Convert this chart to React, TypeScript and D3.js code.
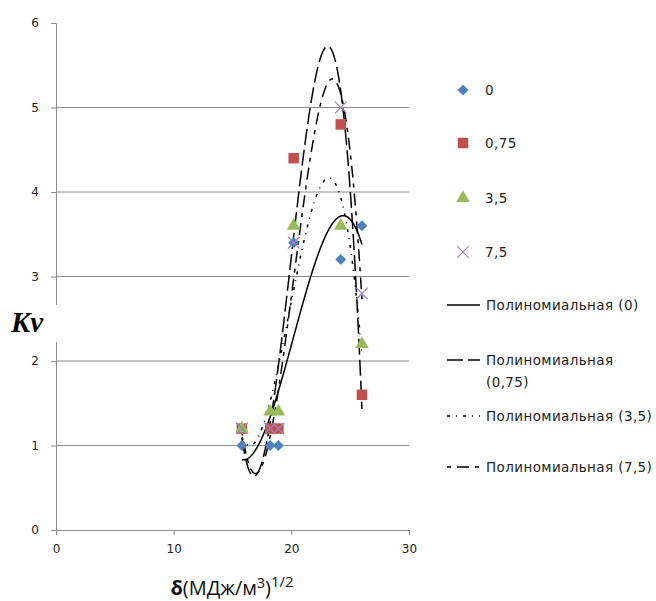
import React, { useEffect, useRef } from 'react';
import * as d3 from 'd3';

// значения
const xValues = [15.8, 18.2, 18.9, 20.2, 24.2, 26.0];
const seriesNames = ['0', '0,75', '3,5', '7,5'];
const kv0 = [1.0, 1.0, 1.0, 3.4, 3.2, 3.6];
const kv075 = [1.2, 1.2, 1.2, 4.4, 4.8, 1.6];
const kv35 = [1.2, 1.4, 1.4, 3.6, 3.6, 2.2];
const kv75 = [1.2, 1.2, 1.2, 3.4, 5.0, 2.8];
const xTicks = [0, 10, 20, 30];
const yTicks = [0, 1, 2, 3, 4, 5, 6];
const trendOrder = 3;

const colors = ['#4F81BD', '#C0504D', '#9BBB59', '#8064A2'];
const dashes = ['none', '16,5', '3,6,1,6', '4,6,12,6'];

// полиномиальная линия тренда (МНК), как в Excel
const polyFit = (xs: number[], ys: number[], order: number) => {
  const n = order + 1;
  const c = 20;
  const A = Array.from({ length: n }, () => new Array(n + 1).fill(0));
  xs.forEach((x, k) => {
    const t = x - c;
    for (let i = 0; i < n; i++) {
      for (let j = 0; j < n; j++) A[i][j] += Math.pow(t, i + j);
      A[i][n] += ys[k] * Math.pow(t, i);
    }
  });
  for (let i = 0; i < n; i++) {
    let p = i;
    for (let r = i + 1; r < n; r++) if (Math.abs(A[r][i]) > Math.abs(A[p][i])) p = r;
    [A[i], A[p]] = [A[p], A[i]];
    for (let r = 0; r < n; r++) {
      if (r === i) continue;
      const f = A[r][i] / A[i][i];
      for (let j = i; j <= n; j++) A[r][j] -= f * A[i][j];
    }
  }
  const coef = A.map((row, i) => row[n] / row[i]);
  return (x: number) => coef.reduce((s, a, i) => s + a * Math.pow(x - c, i), 0);
};

const App = () => {
  const ref = useRef<SVGSVGElement>(null);

  useEffect(() => {
    const svg = d3.select(ref.current);
    svg.selectAll('*').remove();

    const width = 656;
    const height = 601;
    const marginLeft = 56;
    const marginTop = 23;
    const plotRight = 409;
    const plotBottom = 530;

    const x = d3.scaleLinear().domain([0, 30]).range([marginLeft, plotRight]);
    const y = d3.scaleLinear().domain([0, 6]).range([plotBottom, marginTop]);

    svg.attr('width', width).attr('height', height);
    svg.append('rect').attr('width', width).attr('height', height).attr('fill', '#fff');

    // сетка
    svg.append('g')
      .selectAll('line')
      .data(yTicks.filter(d => d > 0 && d < 6))
      .join('line')
      .attr('x1', x(0)).attr('x2', x(30))
      .attr('y1', d => y(d)).attr('y2', d => y(d))
      .attr('stroke', '#8c8c8c').attr('stroke-width', 1);

    const axisFont = '"DejaVu Sans", Verdana, sans-serif';

    const gx = svg.append('g')
      .attr('transform', `translate(0,${plotBottom})`)
      .call(d3.axisBottom(x).tickValues(xTicks).tickFormat(d3.format('d')).tickSize(5).tickPadding(9));
    gx.select('.domain').attr('stroke', '#8c8c8c');
    gx.selectAll('.tick line').attr('stroke', '#8c8c8c');
    gx.selectAll('.tick text').attr('font-family', axisFont).attr('font-size', 12).attr('fill', '#222');

    const gy = svg.append('g')
      .attr('transform', `translate(${marginLeft},0)`)
      .call(d3.axisLeft(y).tickValues(yTicks).tickFormat(d3.format('d')).tickSize(5).tickPadding(12));
    gy.select('.domain').attr('stroke', '#8c8c8c');
    gy.selectAll('.tick line').attr('stroke', '#8c8c8c');
    gy.selectAll('.tick text').attr('font-family', axisFont).attr('font-size', 12).attr('fill', '#222');

    // подпись оси Y поверх оси
    svg.append('rect').attr('x', 8).attr('y', 305).attr('width', 54).attr('height', 37).attr('fill', '#fff');
    svg.append('text')
      .attr('x', 11).attr('y', 332)
      .attr('font-family', '"Liberation Serif", "Times New Roman", serif')
      .attr('font-weight', 'bold').attr('font-style', 'italic').attr('font-size', 29)
      .text('Kv');

    const xLabel = svg.append('text')
      .attr('x', 232).attr('y', 595)
      .attr('text-anchor', 'middle')
      .attr('font-family', '"Open Sans", "DejaVu Sans", sans-serif')
      .attr('font-size', 20).attr('fill', '#111');
    xLabel.append('tspan').attr('font-weight', 'bold').text('δ');
    xLabel.append('tspan').text('(МДж/м');
    xLabel.append('tspan').attr('font-size', 14).attr('dy', -7).text('3');
    xLabel.append('tspan').attr('dy', 7).text(')');
    xLabel.append('tspan').attr('font-size', 15).attr('dy', -8).text('1/2');

    const all = [kv0, kv075, kv35, kv75];

    // линии тренда
    all.forEach((ys, i) => {
      const f = polyFit(xValues, ys, trendOrder);
      const xs = d3.range(0, 201).map(k => xValues[0] + (xValues[xValues.length - 1] - xValues[0]) * k / 200);
      svg.append('path')
        .attr('d', d3.line<number>().x(d => x(d)).y(d => y(f(d)))(xs))
        .attr('fill', 'none').attr('stroke', '#000').attr('stroke-width', 1.5)
        .attr('stroke-dasharray', dashes[i]);
    });

    const symbols = [d3.symbolSquare, d3.symbolSquare, d3.symbolTriangle, d3.symbolX];
    const sizes = [60, 110, 80, 90];
    const drawMarker = (g: any, i: number, cx: number, cy: number) => {
      const p = g.append('path')
        .attr('d', d3.symbol().type(symbols[i]).size(sizes[i])())
        .attr('transform', `translate(${cx},${cy})${i === 0 ? ' rotate(45)' : ''}`);
      if (i === 3) p.attr('fill', 'none').attr('stroke', '#9983be').attr('stroke-width', 1.2);
      else p.attr('fill', colors[i]);
    };

    const marks = svg.append('g');
    all.forEach((ys, i) => {
      ys.forEach((v, k) => drawMarker(marks, i, x(xValues[k]), y(v)));
    });

    // легенда
    const legendFont = '"DejaVu Sans", Verdana, sans-serif';
    const lg = svg.append('g');
    const markerRows = [90, 143, 198, 252];
    seriesNames.forEach((name, i) => {
      drawMarker(lg, i, 463, markerRows[i]);
      lg.append('text').attr('x', 485).attr('y', markerRows[i] + 5)
        .attr('font-family', legendFont).attr('font-size', 13.5).attr('letter-spacing', 0.4)
        .attr('fill', '#222').text(name);
    });
    const lineRows = [305, 360, 416, 467];
    seriesNames.forEach((name, i) => {
      lg.append('line').attr('x1', 447).attr('x2', 480)
        .attr('y1', lineRows[i]).attr('y2', lineRows[i])
        .attr('stroke', '#000').attr('stroke-width', 1.5).attr('stroke-dasharray', dashes[i]);
      const t = lg.append('text').attr('x', 486).attr('y', lineRows[i] + 5)
        .attr('font-family', legendFont).attr('font-size', 13.5).attr('letter-spacing', 0.4)
        .attr('fill', '#222');
      if (i === 1) {
        t.append('tspan').text('Полиномиальная');
        t.append('tspan').attr('x', 486).attr('dy', 22).text(`(${name})`);
      } else {
        t.text(`Полиномиальная (${name})`);
      }
    });
  }, []);

  return <svg ref={ref} style={{ position: 'absolute', left: 0, top: 0 }} />;
};

export default App;
